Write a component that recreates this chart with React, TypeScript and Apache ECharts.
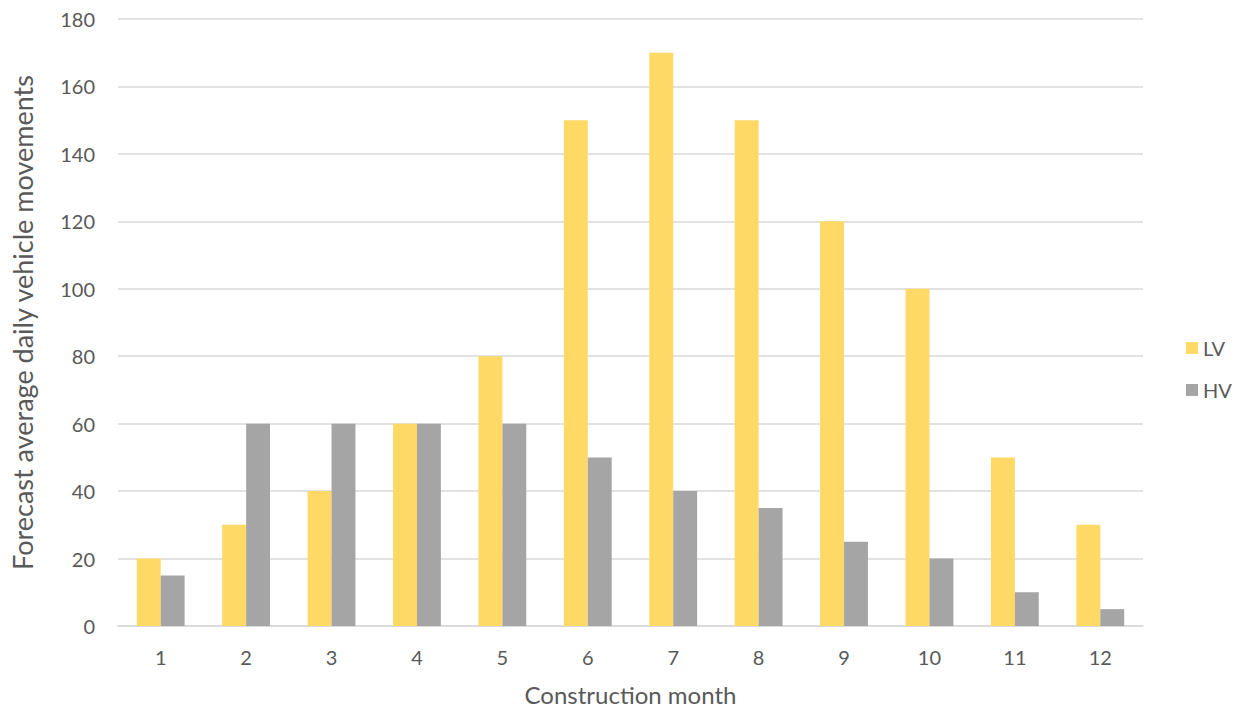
import React, { useEffect, useRef } from "react";
import * as echarts from "echarts";

const months = ["1", "2", "3", "4", "5", "6", "7", "8", "9", "10", "11", "12"];
const lvValues = [20, 30, 40, 60, 80, 150, 170, 150, 120, 100, 50, 30];
const hvValues = [15, 60, 60, 60, 60, 50, 40, 35, 25, 20, 10, 5];

const FONT = "Lato, 'Open Sans', sans-serif";
const TEXT = "#595959";

export default function App() {
  const ref = useRef<HTMLDivElement>(null);
  useEffect(() => {
    if (!ref.current) return;
    const chart = echarts.init(ref.current, undefined, { renderer: "svg" });
    chart.setOption({
      animation: false,
      textStyle: { fontFamily: FONT },
      grid: { left: 118, right: 103, top: 19, bottom: 83 },
      legend: {
        orient: "vertical",
        left: 1181,
        top: 333,
        itemWidth: 12,
        itemHeight: 12,
        itemGap: 22,
        icon: "rect",
        textStyle: { color: TEXT, fontSize: 20, fontFamily: FONT },
        data: ["LV", "HV"],
      },
      xAxis: {
        type: "category",
        data: months,
        name: "Construction month",
        nameLocation: "middle",
        nameGap: 56,
        nameTextStyle: { color: TEXT, fontSize: 24, fontFamily: FONT },
        axisLine: { lineStyle: { color: "#d9d9d9", width: 1.5 } },
        axisTick: { show: false },
        axisLabel: { color: TEXT, fontSize: 20, margin: 21, fontFamily: FONT },
      },
      yAxis: {
        type: "value",
        min: 0,
        max: 180,
        interval: 20,
        name: "Forecast average daily vehicle movements",
        nameLocation: "middle",
        nameGap: 82,
        nameTextStyle: { color: TEXT, fontSize: 27, fontFamily: FONT },
        axisLine: { show: false },
        axisTick: { show: false },
        axisLabel: { color: TEXT, fontSize: 20, margin: 23, fontFamily: FONT },
        splitLine: { lineStyle: { color: "#d9d9d9", width: 1.5 } },
      },
      series: [
        {
          name: "LV",
          type: "bar",
          data: lvValues,
          barGap: "0%",
          barCategoryGap: "44%",
          itemStyle: { color: "#FFD966" },
        },
        {
          name: "HV",
          type: "bar",
          data: hvValues,
          barGap: "0%",
          barCategoryGap: "44%",
          itemStyle: { color: "#A5A5A5" },
        },
      ],
    });
    return () => chart.dispose();
  }, []);
  return (
    <div
      ref={ref}
      style={{ position: "fixed", left: 0, top: 0, width: 1246, height: 711, background: "#fff" }}
    />
  );
}
